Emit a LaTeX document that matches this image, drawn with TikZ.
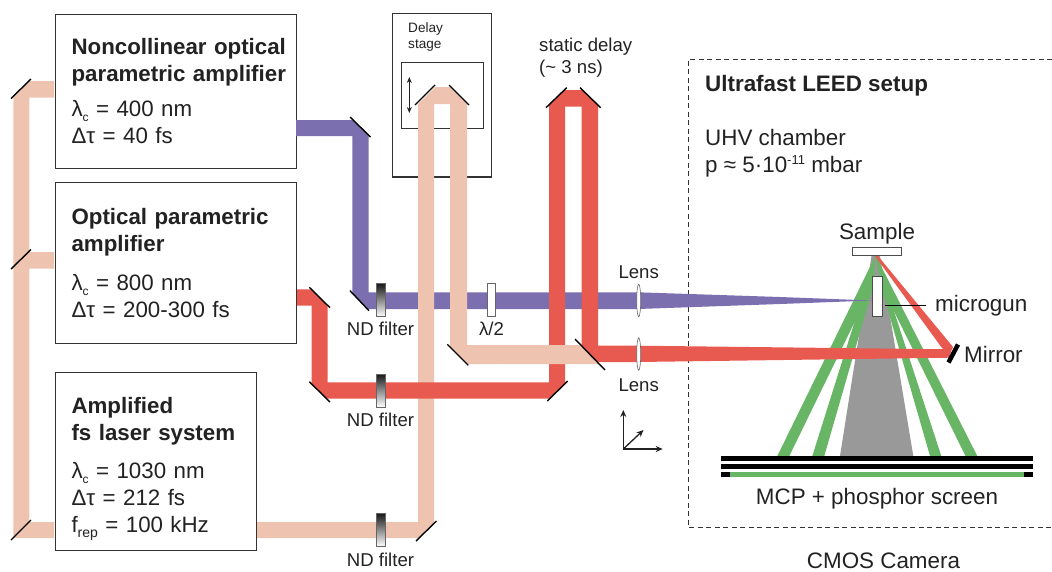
\documentclass[tikz,border=0pt]{standalone}
\usepackage{fontspec}
\setmainfont{Liberation Sans}
\usetikzlibrary{shapes.geometric,arrows.meta}
\definecolor{pumpcol}{HTML}{EEC4B0}
\definecolor{bluecol}{HTML}{7B6FB0}
\definecolor{redcol}{HTML}{E8594F}
\definecolor{greencol}{HTML}{68B665}
\definecolor{textcol}{HTML}{222222}
\newcommand{\lamc}{λ\raisebox{-5pt}{\fontsize{12}{12}\selectfont c}}
\newcommand{\dtau}{Δτ}
\newcommand{\frep}{f\raisebox{-5pt}{\fontsize{14}{14}\selectfont rep}}
\tikzset{
    labbox/.style={draw=black!80,line width=1.1pt,fill=white,anchor=north west,text=textcol,
        align=left,inner xsep=16.5pt,inner ysep=0pt,font=\fontsize{22.3}{27}\selectfont},
    bigtext/.style={text=textcol,inner sep=0pt,anchor=base west,font=\fontsize{22.4}{27}\selectfont},
    smalltext/.style={text=textcol,inner sep=0pt,anchor=base,font=\fontsize{18.6}{22}\selectfont},
    mirrorline/.style={black,line width=1.4pt},
    axisline/.style={-{Stealth[length=7pt,width=6pt]},textcol,line width=1.3pt},
    ndfilter/.style={draw=black!60,line width=0.6pt,top color=black!90,bottom color=white,
        minimum width=9pt,minimum height=33pt,inner sep=0pt},
    waveplate/.style={draw=black!60,line width=0.8pt,fill=white,minimum width=8.5pt,minimum height=33pt,inner sep=0pt},
    lens/.style={draw=black!60,line width=0.6pt,fill=white,ellipse,minimum width=4pt,minimum height=32.5pt,inner sep=0pt},
    plate/.style={fill=black}
}
\begin{document}
\begin{tikzpicture}[x=1pt,y=-1pt,>=stealth]
    \useasboundingbox (0,0) rectangle (1052,571);
    % boxes
    \node[labbox,text width=208.5pt,minimum height=154pt] (nopa) at (54.5,13.5)
        {\mbox{\textbf{Noncollinear optical}}\\\mbox{\textbf{parametric amplifier}}\\[8pt]\lamc{} = 400 nm\\\dtau{} = 40 fs};
    \node[labbox,text width=208.5pt,minimum height=161pt] (opa) at (54.5,181.5)
        {\textbf{Optical parametric}\\\textbf{amplifier}\\[12pt]\lamc{} = 800 nm\\\dtau{} = 200-300 fs};
    \node[labbox,text width=168.5pt,minimum height=178pt] (laser) at (54.5,372)
        {\rule{0pt}{30pt}\textbf{Amplified}\\\textbf{fs laser system}\\[11pt]\lamc{} = 1030 nm\\\dtau{} = 212 fs\\\frep{} = 100 kHz};
    \draw[black!80,line width=1.1pt] (392.5,13.5) rectangle (491.5,177);
    \draw[black!80,line width=1pt] (401,62.5) rectangle (483,128);
    \node[text=textcol,inner sep=0pt,anchor=north west,align=left,font=\fontsize{13.6}{16.7}\selectfont] (stagetext) at (408,22) {Delay\\stage};
    \coordinate (stagetop) at (409.3,77);
    \coordinate (stagebot) at (409.3,113);
    \draw[{Stealth[length=6pt,width=5pt]}-{Stealth[length=6pt,width=5pt]},textcol,line width=1.3pt] (stagetop) -- (stagebot);
    % LEED setup
    \draw[black!80,line width=0.8pt,dash pattern=on 5pt off 3.5pt] (1052,59) -- (688,59) -- (688,527) -- (1052,527);
    \fill[black!40] (871.5,256) -- (880,256) -- (913.3,456) -- (840,456) -- cycle;
    \foreach \ax/\bx/\cx/\dx in {875.3/777.3/789.3/872.7,875.3/812.3/824.3/873.6,876/941.3/930/880.7,876/977.3/965.5/881}{
        \fill[greencol] (\ax,256) -- (\bx,456) -- (\cx,456) -- (\dx,285) -- cycle;
    }
    % beams
    \fill[bluecol] (296,120) -- (353,120) -- (368.5,135) -- (368.5,292.3) -- (638,292.3) -- (780,297) -- (872,300.5) -- (780,304) -- (638,309) -- (368,309) -- (352.3,293) -- (352.3,136) -- (296,136) -- cycle;
    \fill[pumpcol] (54,81) -- (29.5,81) -- (13.3,97) -- (13.3,538) -- (54,538) -- (54,522) -- (29.3,522) -- (29.3,268.7) -- (54,268.7) -- (54,252) -- (29.3,252) -- (29.3,97.7) -- (54,97.7) -- cycle;
    \fill[pumpcol] (257,522) -- (418,522) -- (418,104) -- (435,87) -- (450,87) -- (467,104) -- (467,345) -- (500,345) -- (500,364) -- (467,364) -- (450,347) -- (450,104) -- (434,104) -- (434,523) -- (419,538) -- (257,538) -- cycle;
    \fill[redcol] (297,289.3) -- (311.5,289.3) -- (327.7,305.5) -- (327.7,382.3) -- (549,382.3) -- (549,105) -- (564,90) -- (583,90) -- (598,105) -- (598,345.7) -- (638,345.7) -- (950,349.3) -- (950,357.7) -- (638,362) -- (598,362) -- (581.7,345.7) -- (581.7,106.7) -- (565,106.7) -- (565,383.7) -- (549.7,398.7) -- (327,398.7) -- (311.7,384) -- (311.7,305.7) -- (297,305.7) -- cycle;
    \fill[redcol] (875,256) -- (878,256) -- (953,347) -- (950,354) -- (942,348) -- cycle;
    \fill[pumpcol] (499,345) -- (581,345) -- (599,364) -- (499,364) -- cycle;
    % mirrors
    \foreach \ax/\ay/\bx/\by in {11/98.5/31/79,11/269/31/249.5,11/540/31/520,416/541/436.5/521,
        415/105/435/85,449/85/469/105,350/117/370.5/137,350/290.7/369/310.7,309.3/287.3/330/307.7,
        309.3/381.7/330/402,547.3/401/567.7/381,546/107.7/566.7/87.7,580/87.7/600.7/107.7,
        447.3/344.3/468.3/365.3,575/339/605/370}{
        \draw[mirrorline] (\ax,\ay) -- (\bx,\by);
    }
    \draw[black,line width=4.5pt] (948.5,362.5) -- (958,344.5);
    % optics
    \node[ndfilter] (ndblue) at (380.5,300.2) {};
    \node[ndfilter] (ndred) at (380.5,390.5) {};
    \node[ndfilter] (ndpump) at (380.5,530) {};
    \node[waveplate] (halfwave) at (491.5,300.2) {};
    \node[lens] (lensblue) at (638.7,300.5) {};
    \node[lens] (lensred) at (638.7,354) {};
    \node[smalltext] (ndbluetext) at (380.5,335) {ND filter};
    \node[smalltext] (ndredtext) at (380.5,426) {ND filter};
    \node[smalltext] (ndpumptext) at (380.5,566) {ND filter};
    \node[smalltext] (halfwavetext) at (491.5,335) {λ/2};
    \node[smalltext] (lensbluetext) at (638.7,278) {Lens};
    \node[smalltext] (lensredtext) at (638.7,391) {Lens};
    \node[smalltext,anchor=north west,align=left] (delaytext) at (539,38) {static delay\\(\textasciitilde{} 3 ns)};
    % axes
    \coordinate (axo) at (623.3,449);
    \coordinate (axup) at (623.3,410);
    \coordinate (axright) at (662.7,449);
    \coordinate (axdiag) at (643.5,430);
    \draw[axisline] (axo) -- (axup);
    \draw[axisline] (axo) -- (axright);
    \draw[axisline] (axo) -- (axdiag);
    % chamber
    \node[bigtext] (leedtitle) at (705,91) {\textbf{Ultrafast LEED setup}};
    \node[bigtext,anchor=north west,align=left] (uhvtext) at (705,129) {UHV chamber\\p ≈ 5·10\raisebox{7.5pt}{\fontsize{13}{13}\selectfont -11} mbar};
    \node[draw=black!70,line width=0.7pt,fill=white,minimum width=49pt,minimum height=8pt,inner sep=0pt] (sample) at (876.8,251.3) {};
    \node[draw=black!70,line width=0.8pt,fill=white,minimum width=10pt,minimum height=40.5pt,inner sep=0pt] (microgun) at (877,296.3) {};
    \node[bigtext] (sampletext) at (877,239) [anchor=base] {Sample};
    \node[bigtext,inner xsep=9pt] (microguntext) at (926,311) {microgun};
    \draw[black,line width=0.9pt] (microguntext.west) -- ([xshift=3pt]microguntext.west -| microgun.east);
    \node[bigtext] (mirrortext) at (964,362) {Mirror};
    \foreach \ty in {458.5,466.5,474.5}{
        \fill[plate] (721,\ty-2.5) rectangle (1033,\ty+2.5);
    }
    \fill[greencol] (730,472) rectangle (1024,477);
    \node[bigtext,anchor=base] (screentext) at (877,504) {MCP + phosphor screen};
    \node[bigtext,anchor=base] (cameratext) at (883.5,568) {CMOS Camera};
\end{tikzpicture}
\end{document}
